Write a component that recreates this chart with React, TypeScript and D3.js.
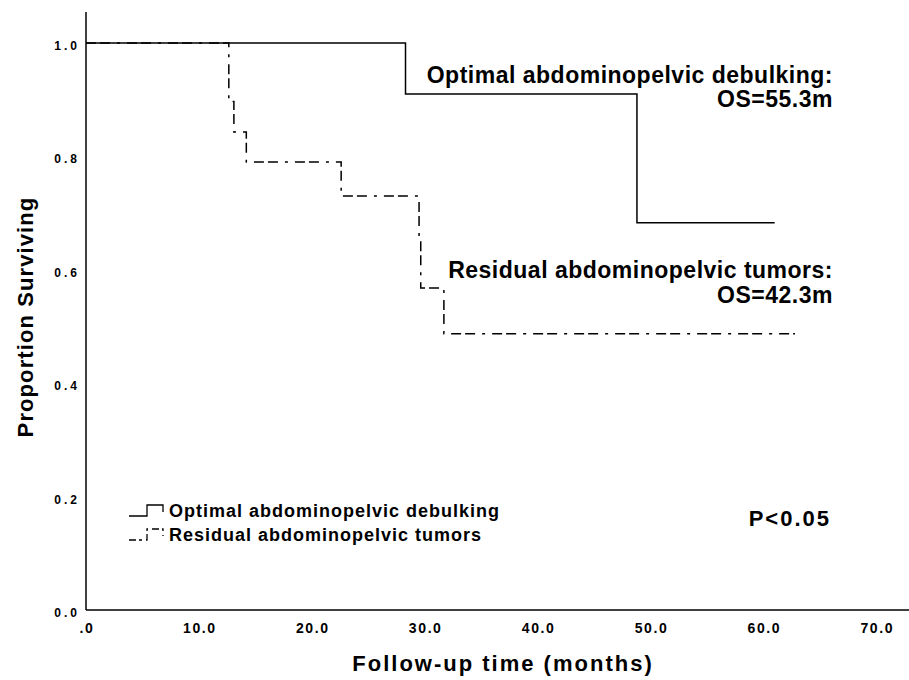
import * as d3 from "d3";
import { useEffect, useRef } from "react";

// Kaplan-Meier step data (months, proportion surviving)
const optimalTimes = [0, 28.3, 48.8];
const optimalSurv = [1.0, 0.91, 0.683];
const optimalEnd = 61.0;

const residualTimes = [0, 12.65, 13.1, 14.2, 22.6, 29.5, 29.65, 31.7];
const residualSurv = [1.0, 0.897, 0.843, 0.79, 0.73, 0.649, 0.568, 0.487];
const residualEnd = 62.8;

const xTicks = [0, 10, 20, 30, 40, 50, 60, 70];
const yTicks = [0, 0.2, 0.4, 0.6, 0.8, 1.0];

const FONT = "'Liberation Sans', Arial, Helvetica, sans-serif";
const DASH = "10,4,10,7,3,7";

function App() {
  const ref = useRef<SVGSVGElement>(null);

  useEffect(() => {
    const width = 909;
    const height = 680;
    const x0 = 86;
    const yBase = 610;

    const svg = d3.select(ref.current);
    svg.selectAll("*").remove();
    svg.attr("width", width).attr("height", height);

    const xScale = d3.scaleLinear().domain([0, 70]).range([x0, x0 + 70 * 11.29]);
    const yScale = d3.scaleLinear().domain([0, 1]).range([yBase, 43]);

    // axes lines
    svg.append("line")
      .attr("x1", x0).attr("x2", x0).attr("y1", 12).attr("y2", yBase)
      .attr("stroke", "#000").attr("stroke-width", 1.5);
    svg.append("line")
      .attr("x1", x0).attr("x2", width).attr("y1", yBase).attr("y2", yBase)
      .attr("stroke", "#000").attr("stroke-width", 1.5);

    // tick labels
    svg.append("g").selectAll("text").data(yTicks).enter().append("text")
      .attr("x", 80)
      .attr("y", (d) => yScale(d) + 7)
      .attr("text-anchor", "end")
      .attr("font-family", FONT).attr("font-weight", "bold").attr("font-size", 12)
      .attr("letter-spacing", 3)
      .text((d) => d.toFixed(1));

    svg.append("g").selectAll("text").data(xTicks).enter().append("text")
      .attr("x", (d) => xScale(d) + 1)
      .attr("y", yBase + 23)
      .attr("text-anchor", "middle")
      .attr("font-family", FONT).attr("font-weight", "bold").attr("font-size", 14)
      .attr("letter-spacing", 1.6)
      .text((d) => (d === 0 ? ".0" : d.toFixed(1)));

    // axis titles
    svg.append("text")
      .attr("x", 503).attr("y", 671)
      .attr("text-anchor", "middle")
      .attr("font-family", FONT).attr("font-weight", "bold").attr("font-size", 22)
      .attr("letter-spacing", 2)
      .text("Follow-up time (months)");
    svg.append("text")
      .attr("transform", "translate(33,317) rotate(-90)")
      .attr("text-anchor", "middle")
      .attr("font-family", FONT).attr("font-weight", "bold").attr("font-size", 22)
      .attr("letter-spacing", 1.1)
      .text("Proportion Surviving");

    const line = d3.line<[number, number]>()
      .x((d) => xScale(d[0]))
      .y((d) => yScale(d[1]))
      .curve(d3.curveStepAfter);

    const optPts: [number, number][] = optimalTimes.map((t, i) => [t, optimalSurv[i]]);
    optPts.push([optimalEnd, optimalSurv[optimalSurv.length - 1]]);
    const resPts: [number, number][] = residualTimes.map((t, i) => [t, residualSurv[i]]);
    resPts.push([residualEnd, residualSurv[residualSurv.length - 1]]);

    svg.append("path").attr("d", line(optPts))
      .attr("fill", "none").attr("stroke", "#000").attr("stroke-width", 1.5);
    svg.append("path").attr("d", line(resPts))
      .attr("fill", "none").attr("stroke", "#000").attr("stroke-width", 1.5)
      .attr("stroke-dasharray", DASH);

    // curve annotations
    const ann = [
      { t: "Optimal abdominopelvic debulking:", y: 83 },
      { t: "OS=55.3m", y: 107 },
      { t: "Residual abdominopelvic tumors:", y: 278 },
      { t: "OS=42.3m", y: 303 },
    ];
    svg.append("g").selectAll("text").data(ann).enter().append("text")
      .attr("x", 833).attr("y", (d) => d.y)
      .attr("text-anchor", "end")
      .attr("font-family", FONT).attr("font-weight", "bold").attr("font-size", 23)
      .attr("letter-spacing", 0.5)
      .text((d) => d.t);

    svg.append("text")
      .attr("x", 831).attr("y", 526)
      .attr("text-anchor", "end")
      .attr("font-family", FONT).attr("font-weight", "bold").attr("font-size", 22)
      .attr("letter-spacing", 2)
      .text("P<0.05");

    // legend
    const legend = svg.append("g");
    const items = [
      { label: "Optimal abdominopelvic debulking", y: 516, dash: null },
      { label: "Residual abdominopelvic tumors", y: 540, dash: "7,3,3,4" },
    ];
    items.forEach((it) => {
      const p = `M129,${it.y} L147,${it.y} L147,${it.y - 11} L163,${it.y - 11} L163,${it.y - 4}`;
      const sym = legend.append("path").attr("d", p)
        .attr("fill", "none").attr("stroke", "#000").attr("stroke-width", 1.3);
      if (it.dash) sym.attr("stroke-dasharray", it.dash);
      legend.append("text")
        .attr("x", 169).attr("y", it.y + 1)
        .attr("font-family", FONT).attr("font-weight", "bold").attr("font-size", 18)
        .attr("letter-spacing", 1)
        .text(it.label);
    });
  }, []);

  return (
    <svg
      ref={ref}
      style={{ position: "absolute", left: 0, top: 0, background: "#fff" }}
    ></svg>
  );
}

export default App;
